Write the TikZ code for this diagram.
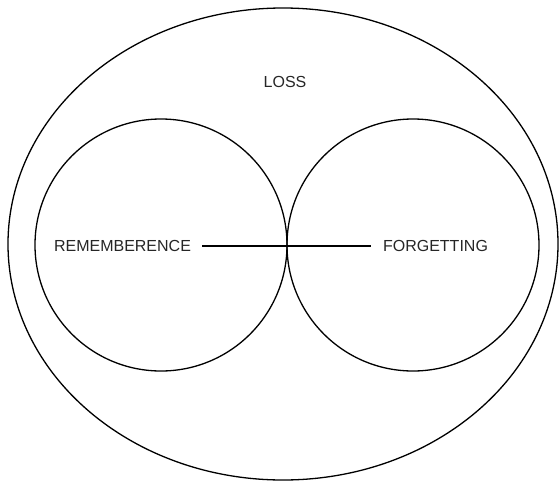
\documentclass[tikz,border=0pt]{standalone}
\usepackage{fontspec}
\setmainfont{Liberation Sans}
\usepackage{tikz}
\tikzset{
  ringln/.style={draw=black,line width=1.3pt},
  bigring/.style={ringln,circle,minimum size=252pt,inner sep=0pt},
  lbl/.style={font=\fontsize{16}{19}\selectfont,text=black!85,inner ysep=0pt},
  linkln/.style={black,line width=1.3pt},
}
\begin{document}
\begin{tikzpicture}[x=1pt,y=-1pt]
        \useasboundingbox (0,0) rectangle (560,480);
        % outer ellipse
        \draw[ringln] (283,244) ellipse [x radius=275, y radius=236];
        \node[lbl] (loss) at (285,82) {LOSS};
        % two circles
        \node[bigring] (remring) at (161,245) {};
        \node[bigring] (forgring) at (413,245) {};
        % labels and link
        \node[lbl,inner xsep=11pt] (remem) at (122.5,246) {REMEMBERENCE};
        \node[lbl,inner xsep=12pt] (forget) at (435.5,246) {FORGETTING};
        \draw[linkln] (remem.east) -- (forget.west);
      \end{tikzpicture}
\end{document}
